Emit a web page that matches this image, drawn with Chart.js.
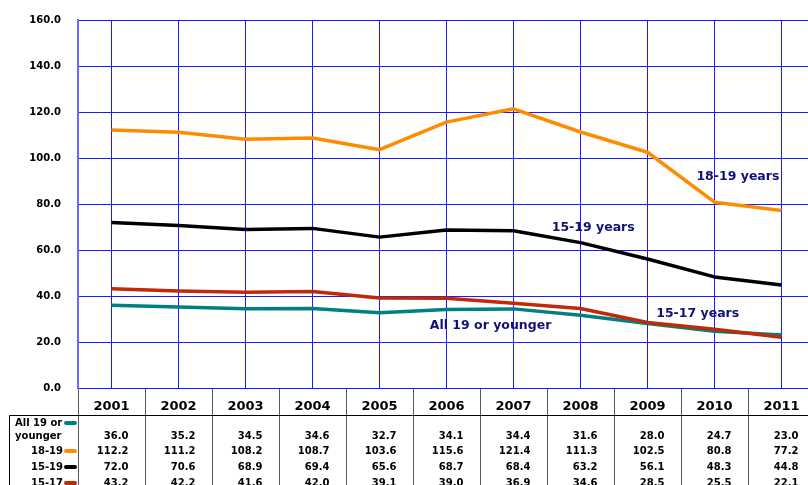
<!DOCTYPE html>
<html>
<head>
<meta charset="utf-8">
<script src="https://cdn.jsdelivr.net/npm/chart.js@4"></script>
<style>
  html, body { margin: 0; padding: 0; background: #fff; overflow: hidden; }
  #wrap { position: relative; width: 815px; height: 485px; }
</style>
</head>
<body>
<div id="wrap"><canvas id="c"></canvas></div>
<script>
const years = ["2001","2002","2003","2004","2005","2006","2007","2008","2009","2010","2011"];
const all19 = [36.0, 35.2, 34.5, 34.6, 32.7, 34.1, 34.4, 31.6, 28.0, 24.7, 23.0];
const age1819 = [112.2, 111.2, 108.2, 108.7, 103.6, 115.6, 121.4, 111.3, 102.5, 80.8, 77.2];
const age1519 = [72.0, 70.6, 68.9, 69.4, 65.6, 68.7, 68.4, 63.2, 56.1, 48.3, 44.8];
const age1517 = [43.2, 42.2, 41.6, 42.0, 39.1, 39.0, 36.9, 34.6, 28.5, 25.5, 22.1];

// table rows: label lines, colour, values
const rows = [
  { label: ["All 19 or", "younger"], color: "#008080", values: all19 },
  { label: ["18-19"], color: "#ff8c00", values: age1819 },
  { label: ["15-19"], color: "#000000", values: age1519 },
  { label: ["15-17"], color: "#c02a06", values: age1517 }
];

// in-plot labels, anchored in data space (category index, value)
const notes = [
  { text: "18-19 years", x: 8.73, y: 91.9 },
  { text: "15-19 years", x: 6.57, y: 69.8 },
  { text: "15-17 years", x: 8.13, y: 32.1 },
  { text: "All 19 or younger", x: 4.75, y: 26.9 }
];

Chart.defaults.font.family = "'DejaVu Sans', Verdana, sans-serif";

const tablePlugin = {
  id: "table",
  afterDatasetsDraw(chart){
    const ctx = chart.ctx;
    const xs = chart.scales.x, ys = chart.scales.y;
    ctx.save();
    ctx.fillStyle = "#101075";
    ctx.font = "bold 12.5px 'DejaVu Sans'";
    ctx.textAlign = "left";
    ctx.textBaseline = "middle";
    notes.forEach(n => {
      const x0 = xs.getPixelForValue(0), step = xs.getPixelForValue(1) - x0;
      ctx.fillText(n.text, x0 + n.x * step, ys.getPixelForValue(n.y));
    });
    ctx.restore();
  },
  afterDraw(chart){
    const ctx = chart.ctx;
    const xs = chart.scales.x;
    const area = chart.chartArea;
    const bottom = area.bottom;
    const x0 = xs.getPixelForValue(0);
    const step = xs.getPixelForValue(1) - x0;
    ctx.save();

    // column separators
    ctx.strokeStyle = "#5a5a5a";
    ctx.lineWidth = 1;
    for (let i = 0; i <= years.length; i++){
      const px = Math.round(x0 + (i - 0.5) * step) + 0.5;
      ctx.beginPath();
      ctx.moveTo(px, bottom + 1);
      ctx.lineTo(px, chart.height);
      ctx.stroke();
    }

    // header line and left border
    ctx.strokeStyle = "#000";
    ctx.beginPath();
    ctx.moveTo(9.5, bottom + 27.5);
    ctx.lineTo(chart.width, bottom + 27.5);
    ctx.moveTo(9.5, bottom + 27.5);
    ctx.lineTo(9.5, chart.height);
    ctx.stroke();

    // year header
    ctx.fillStyle = "#000";
    ctx.textBaseline = "middle";
    ctx.textAlign = "center";
    ctx.font = "bold 13px 'DejaVu Sans'";
    years.forEach((yr, i) => ctx.fillText(yr, xs.getPixelForValue(i), bottom + 19));

    // rows
    const rowY = [bottom + 48, bottom + 63, bottom + 79, bottom + 95];
    ctx.font = "bold 10px 'DejaVu Sans'";
    rows.forEach((r, ri) => {
      const y = rowY[ri];
      ctx.fillStyle = "#000";
      if (r.label.length === 2){
        ctx.textAlign = "left";
        ctx.fillText(r.label[0], 15, y - 13);
        ctx.fillText(r.label[1], 15, y);
      } else {
        ctx.textAlign = "right";
        ctx.fillText(r.label[0], 63, y);
      }
      // legend key
      const ky = r.label.length === 2 ? y - 13 : y;
      ctx.strokeStyle = r.color;
      ctx.lineWidth = 4;
      ctx.lineCap = "round";
      ctx.beginPath();
      ctx.moveTo(66, ky);
      ctx.lineTo(75, ky);
      ctx.stroke();
      // values
      ctx.fillStyle = "#000";
      ctx.textAlign = "right";
      r.values.forEach((v, i) => ctx.fillText(v.toFixed(1), xs.getPixelForValue(i) + 17, y));
    });
    ctx.restore();
  }
};

const mk = (label, data, color, order) => ({
  label, data, borderColor: color, backgroundColor: color,
  borderWidth: 3.5, pointRadius: 0, tension: 0, order,
  borderCapStyle: "butt", borderJoinStyle: "round"
});

new Chart(document.getElementById("c"), {
  type: "line",
  data: {
    labels: years,
    datasets: [
      mk("All 19 or younger", all19, "#008080", 1),
      mk("18-19", age1819, "#ff8c00", 2),
      mk("15-19", age1519, "#000000", 3),
      mk("15-17", age1517, "#c02a06", 0)
    ]
  },
  options: {
    responsive: true,
    maintainAspectRatio: false,
    animation: false,
    layout: { padding: { top: 20, left: 0, right: 0, bottom: 0 } },
    plugins: { legend: { display: false }, tooltip: { enabled: false } },
    scales: {
      x: {
        type: "category",
        offset: true,
        grid: { color: "#1a1aff", lineWidth: 1, offset: false, drawTicks: false },
        border: { color: "#1a1aff", width: 1 },
        ticks: { display: false },
        afterFit(scale){ scale.height = 97; }
      },
      y: {
        min: 0, max: 160,
        grid: { color: "#1a1aff", lineWidth: 1, drawTicks: true, tickLength: 14, tickColor: "rgba(0,0,0,0)" },
        border: { color: "#6a6aff", width: 2 },
        ticks: {
          stepSize: 20, padding: 3, color: "#000",
          font: { size: 10, weight: "bold" },
          callback: v => v.toFixed(1)
        },
        afterFit(scale){ scale.width = 78; }
      }
    }
  },
  plugins: [tablePlugin]
});
</script>
</body>
</html>
